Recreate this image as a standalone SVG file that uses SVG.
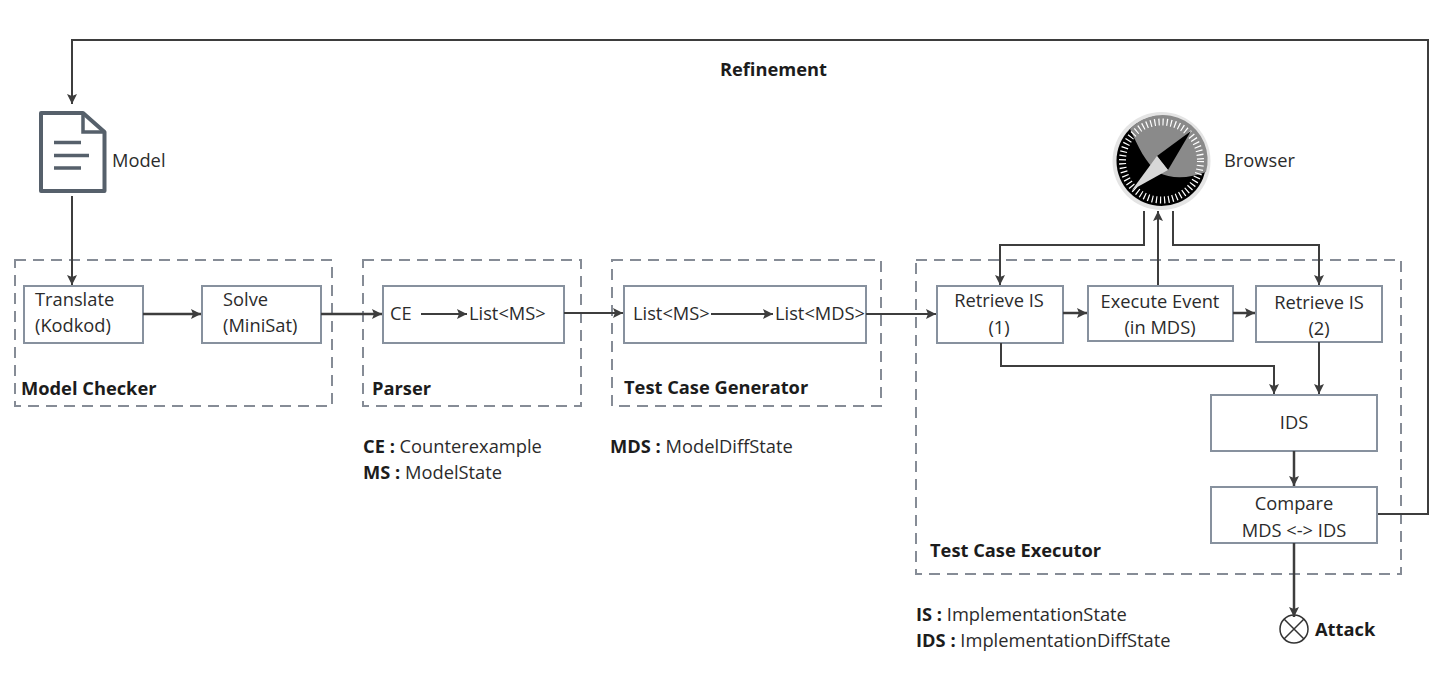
<svg xmlns="http://www.w3.org/2000/svg" width="1445" height="692" viewBox="0 0 1445 692">
<style>
text{font-family:"Open Sans","Liberation Sans",sans-serif;font-size:18.3px;fill:#2b2b2b}
.b{font-weight:700;fill:#1c1c1c}
.m{text-anchor:middle}
.box{fill:#fff;stroke:#87919e;stroke-width:2}
.grp{fill:none;stroke:#868c96;stroke-width:2;stroke-dasharray:11 7}
.c{fill:none;stroke:#3d3d3d;stroke-width:2}
.t{stroke-width:2.5}
</style>
<defs>
<marker id="a" markerWidth="11" markerHeight="10" refX="10" refY="5" orient="auto" markerUnits="userSpaceOnUse"><path d="M0 0L10 5L0 10L2 5Z" fill="#3d3d3d"/></marker>
</defs>
<rect width="1445" height="692" fill="#fff"/>
<g id="groups">
<rect class="grp" x="15" y="260" width="317" height="146"/>
<rect class="grp" x="363" y="260" width="218" height="146"/>
<rect class="grp" x="612" y="260" width="269" height="146"/>
<rect class="grp" x="916" y="260" width="485" height="314"/>
</g>
<g id="model">
<path d="M41 113H83L104.500 132V191H41Z" fill="#fff" stroke="#56606b" stroke-width="4" stroke-linejoin="round"/>
<path d="M83 113V132H104.500" fill="none" stroke="#56606b" stroke-width="3.5"/>
<path d="M54 142.500H81M54 155.500H89M54 168H81" stroke="#56606b" stroke-width="3.500"/>
<text x="112" y="167">Model</text>
</g>
<g id="browser">
<circle cx="1161.500" cy="161" r="49" fill="#e4e4e4"/>
<circle cx="1161.500" cy="161" r="45" fill="#000"/>
<path d="M1130 129A45 45 0 0 1 1206 172C1190 178 1172 180 1158 172C1146 164 1138 146 1130 129Z" fill="#8a8a8a"/>
<circle cx="1161.500" cy="161" r="39" fill="none" stroke="#fff" stroke-width="7" stroke-dasharray="1.200 2.900"/>
<path d="M1191 131L1157 156L1168 170Z" fill="#000"/>
<path d="M1132 190L1157 156L1168 170Z" fill="#d8d8d8"/>
<text x="1224" y="167">Browser</text>
</g>
<g id="translate"><rect class="box" x="24" y="286" width="119" height="57"/>
<text x="35" y="306">Translate</text><text x="35" y="332">(Kodkod)</text></g>
<g id="solve"><rect class="box" x="202" y="286" width="119" height="57"/>
<text x="223" y="306">Solve</text><text x="223" y="332">(MiniSat)</text></g>
<g id="parser"><rect class="box" x="383" y="286" width="181" height="57"/>
<text x="390" y="320">CE</text><text x="469" y="320">List&lt;MS&gt;</text></g>
<g id="generator"><rect class="box" x="624" y="286" width="242" height="57"/>
<text x="633" y="320">List&lt;MS&gt;</text><text x="775" y="320">List&lt;MDS&gt;</text></g>
<g id="retrieve1"><rect class="box" x="937" y="286" width="126" height="57"/>
<text class="m" x="999" y="307">Retrieve IS</text><text class="m" x="999" y="334">(1)</text></g>
<g id="execute"><rect class="box" x="1088" y="286" width="145" height="55"/>
<text class="m" x="1160" y="308">Execute Event</text><text class="m" x="1160" y="334">(in MDS)</text></g>
<g id="retrieve2"><rect class="box" x="1256" y="286" width="126" height="56"/>
<text class="m" x="1319" y="309">Retrieve IS</text><text class="m" x="1319" y="335">(2)</text></g>
<g id="ids"><rect class="box" x="1211" y="395" width="166" height="56"/>
<text class="m" x="1294" y="429">IDS</text></g>
<g id="compare"><rect class="box" x="1211" y="487" width="166" height="56"/>
<text class="m" x="1294" y="510">Compare</text><text class="m" x="1294" y="537">MDS &lt;-&gt; IDS</text></g>
<g id="attack">
<circle cx="1294" cy="629" r="14" fill="#fff" stroke="#333" stroke-width="1.500"/>
<path d="M1284 619L1304 639M1304 619L1284 639" stroke="#333" stroke-width="1.500"/>
<text class="b" x="1315" y="636">Attack</text>
</g>
<g id="labels">
<text class="b" x="720" y="76">Refinement</text>
<text class="b" x="21" y="395">Model Checker</text>
<text class="b" x="372" y="395">Parser</text>
<text class="b" x="624" y="394">Test Case Generator</text>
<text class="b" x="930" y="557">Test Case Executor</text>
<text x="363" y="453"><tspan class="b">CE :</tspan> Counterexample</text>
<text x="363" y="479"><tspan class="b">MS :</tspan> ModelState</text>
<text x="610" y="453"><tspan class="b">MDS :</tspan> ModelDiffState</text>
<text x="916" y="621"><tspan class="b">IS :</tspan> ImplementationState</text>
<text x="916" y="647"><tspan class="b">IDS :</tspan> ImplementationDiffState</text>
</g>
<g id="connectors">
<path class="c" d="M1378 514H1428V40H72V104" marker-end="url(#a)"/>
<path class="c" d="M72 196V285" marker-end="url(#a)"/>
<path class="c t" d="M143 314H201" marker-end="url(#a)"/>
<path class="c t" d="M321 314H382" marker-end="url(#a)"/>
<path class="c" d="M421 314H467" marker-end="url(#a)"/>
<path class="c" d="M564 313H623" marker-end="url(#a)"/>
<path class="c" d="M711 314H773" marker-end="url(#a)"/>
<path class="c" d="M866 314H936" marker-end="url(#a)"/>
<path class="c t" d="M1063 313H1087" marker-end="url(#a)"/>
<path class="c t" d="M1233 313H1255" marker-end="url(#a)"/>
<path class="c" d="M1144 211V245H1000V285" marker-end="url(#a)"/>
<path class="c" d="M1158 285V211" marker-end="url(#a)"/>
<path class="c" d="M1173 211V245H1319V285" marker-end="url(#a)"/>
<path class="c" d="M1001 343V366H1274V394" marker-end="url(#a)"/>
<path class="c" d="M1319 342V394" marker-end="url(#a)"/>
<path class="c t" d="M1294 451V486" marker-end="url(#a)"/>
<path class="c t" d="M1294 543V617" marker-end="url(#a)"/>
</g>
</svg>
